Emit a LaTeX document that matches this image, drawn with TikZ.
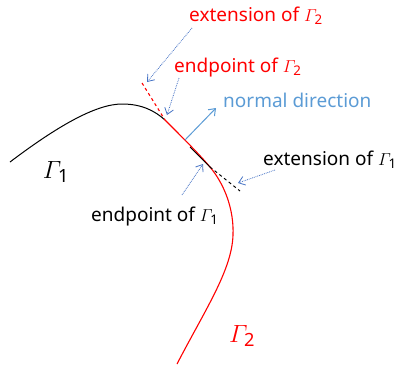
\documentclass[tikz,border=0pt]{standalone}
\usepackage{amsmath}
\usepackage{fontspec}
\setmainfont{Noto Sans}
\usetikzlibrary{arrows.meta}
\definecolor{lblue}{HTML}{5B9BD5}
\definecolor{dblue}{HTML}{4472C4}
\definecolor{myred}{HTML}{FF0000}
\newcommand{\GamSub}[1]{$\varGamma_{\mathbf{#1}}$}
\tikzset{
  lbl/.style={inner sep=0pt, anchor=base west, font=\fontsize{19}{21}\selectfont},
  biglbl/.style={inner sep=0pt, font=\fontsize{26}{28}\selectfont},
  pointer/.style={draw=dblue, densely dotted, line width=0.8pt, -{Straight Barb[length=6pt,width=9pt]}},
  normarrow/.style={draw=lblue, line width=1pt, -{Straight Barb[length=6pt,width=9pt]}},
  curveone/.style={draw=black, line width=1pt},
  curvetwo/.style={draw=myred, line width=1.1pt},
}
\begin{document}
\begin{tikzpicture}[x=1pt,y=-1pt]
\useasboundingbox (0,0) rectangle (401,364);
% named points on the curves
\coordinate (e2) at (147,82);
\coordinate (p2) at (167,115);
\coordinate (nstart) at (185,140);
\coordinate (nend) at (216,108);
\coordinate (p1) at (203,164);
\coordinate (e1) at (238,183);
\coordinate (s2) at (192,28);
\coordinate (t2) at (179,78);
\coordinate (s1) at (182,195);
\coordinate (t1) at (275,170);
% curve Gamma_1
\draw[curveone] (10,162) .. controls (55,128) and (95,104) .. (122,104)
  .. controls (142,104) and (155,111) .. (165,120);
% curve Gamma_2
\draw[curvetwo, dashed] (142,83) -- (165,120);
\draw[curvetwo] (165,120) .. controls (185,140) and (200,155) .. (210,167)
  .. controls (225,185) and (234,210) .. (233,235)
  .. controls (232,270) and (205,310) .. (177,364);
% overlapping black part and extension of Gamma_1
\draw[curveone] (190,147) -- (210,167);
\draw[curveone, dashed] (210,167) -- (240,191);
% arrows
\draw[normarrow] (nstart) -- (nend);
\draw[pointer] (s2) -- (e2);
\draw[pointer] (t2) -- (p2);
\draw[pointer] (s1) -- (p1);
\draw[pointer] (t1) -- (e1);
% labels
\node[lbl, text=myred] (lext2) at (189,21) {extension of \GamSub{2}};
\node[lbl, text=myred] (lend2) at (174,72) {endpoint of \GamSub{2}};
\node[lbl, text=lblue] (lnorm) at (223,107) {normal direction};
\node[lbl] (lext1) at (263,165) {extension of \GamSub{1}};
\node[lbl] (lend1) at (91,221) {endpoint of \GamSub{1}};
\node[biglbl] (g1) at (56,172) {\GamSub{1}};
\node[biglbl, text=myred] (g2) at (242,336) {\GamSub{2}};
\end{tikzpicture}
\end{document}
